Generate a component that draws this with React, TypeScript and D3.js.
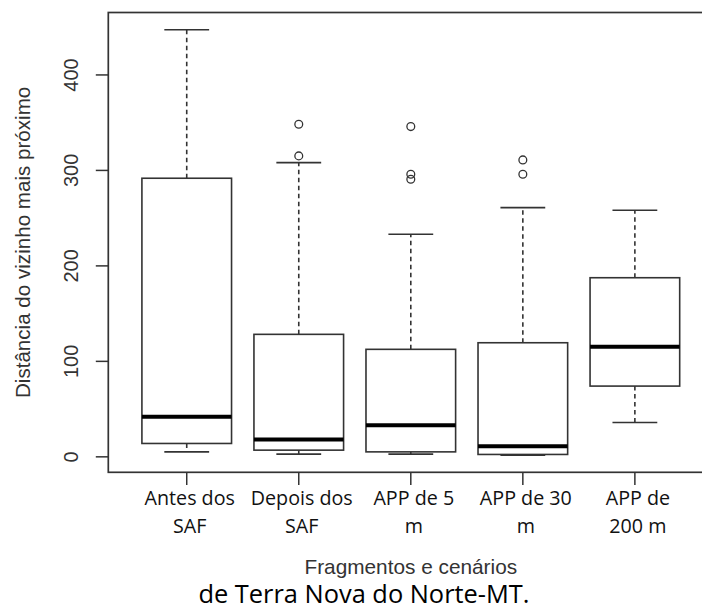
import React from "react";
import * as d3 from "d3";

// ---- data ----
const categories: string[][] = [
  ["Antes dos", "SAF"],
  ["Depois dos", "SAF"],
  ["APP de 5", "m"],
  ["APP de 30", "m"],
  ["APP de", "200 m"],
];
const whiskerLow = [5.2, 2.8, 2.8, 1.8, 36];
const q1 = [14, 7, 5.2, 2.5, 74.1];
const median = [41.9, 18.2, 33.2, 11.2, 115.3];
const q3 = [291.8, 128.3, 112.6, 119.5, 187.6];
const whiskerHigh = [447.3, 308.2, 233.1, 261, 258.3];
const outliers: number[][] = [[], [315.2, 348.4], [290.8, 296, 345.9], [296, 311], []];
const yTicks = [0, 100, 200, 300, 400];
const yLabel = "Distância do vizinho mais próximo";
const xLabel = "Fragmentos e cenários";
const caption = "de Terra Nova do Norte-MT.";

const W = 702;
const H = 605;

export default function App() {
  const x = d3.scaleLinear().domain([0.3, 5.7]).range([108.3, 713.3]);
  const y = d3.scaleLinear().domain([-16.2, 465.4]).range([472.3, 12.5]);
  const unit = x(2) - x(1);
  const boxHalf = unit * 0.4;
  const capHalf = unit * 0.2;
  const [x0, x1] = x.range();
  const [yb, yt] = y.range();
  const stroke = "#333";
  const axisFont = "'Liberation Sans', Arial, sans-serif";
  const labelFont = "'Open Sans', sans-serif";

  return (
    <svg
      width={W}
      height={H}
      style={{ position: "absolute", left: 0, top: 0, background: "#fff" }}
    >
      <rect x={0} y={0} width={W} height={H} fill="#fff" />
      {/* boxes */}
      {categories.map((_, i) => {
        const cx = x(i + 1);
        return (
          <g key={i}>
            <line x1={cx} x2={cx} y1={y(q3[i])} y2={y(whiskerHigh[i])} stroke={stroke} strokeWidth={1.6} strokeDasharray="4.5,3.5" />
            <line x1={cx} x2={cx} y1={y(q1[i])} y2={y(whiskerLow[i])} stroke={stroke} strokeWidth={1.6} strokeDasharray="4.5,3.5" />
            <line x1={cx - capHalf} x2={cx + capHalf} y1={y(whiskerHigh[i])} y2={y(whiskerHigh[i])} stroke={stroke} strokeWidth={1.6} />
            <line x1={cx - capHalf} x2={cx + capHalf} y1={y(whiskerLow[i])} y2={y(whiskerLow[i])} stroke={stroke} strokeWidth={1.6} />
            <rect x={cx - boxHalf} y={y(q3[i])} width={boxHalf * 2} height={y(q1[i]) - y(q3[i])} fill="#fff" stroke={stroke} strokeWidth={1.6} />
            <line x1={cx - boxHalf} x2={cx + boxHalf} y1={y(median[i])} y2={y(median[i])} stroke="#000" strokeWidth={4} />
            {outliers[i].map((v, j) => (
              <circle key={j} cx={cx} cy={y(v)} r={3.9} fill="none" stroke={stroke} strokeWidth={1.3} />
            ))}
          </g>
        );
      })}
      {/* frame */}
      <rect x={x0} y={yt} width={x1 - x0} height={yb - yt} fill="none" stroke={stroke} strokeWidth={1.7} />
      {/* y axis */}
      {yTicks.map((t) => (
        <g key={t}>
          <line x1={x0 - 12.5} x2={x0} y1={y(t)} y2={y(t)} stroke={stroke} strokeWidth={1.5} />
          <text
            transform={`translate(78,${y(t)}) rotate(-90)`}
            textAnchor="middle"
            fontFamily={axisFont}
            fontSize={20}
            fill="#333"
          >
            {t}
          </text>
        </g>
      ))}
      <text
        transform={`translate(30,${(yt + yb) / 2}) rotate(-90)`}
        textAnchor="middle"
        fontFamily={axisFont}
        fontSize={20.6}
        fill="#333"
      >
        {yLabel}
      </text>
      {/* x axis ticks and labels */}
      {categories.map((lines, i) => {
        const cx = x(i + 1);
        return (
          <g key={i}>
            <line x1={cx} x2={cx} y1={yb} y2={yb + 12.7} stroke={stroke} strokeWidth={1.5} />
            {lines.map((s, k) => (
              <text
                key={k}
                x={cx + 3}
                y={505 + k * 28}
                textAnchor="middle"
                fontFamily={labelFont}
                fontSize={19.7}
                fill="#111"
              >
                {s}
              </text>
            ))}
          </g>
        );
      })}
      <text x={(x0 + x1) / 2} y={574} textAnchor="middle" fontFamily={axisFont} fontSize={20.8} fill="#333">
        {xLabel}
      </text>
      <text x={364} y={603} textAnchor="middle" fontFamily={labelFont} fontSize={25.4} fill="#000">
        {caption}
      </text>
    </svg>
  );
}
